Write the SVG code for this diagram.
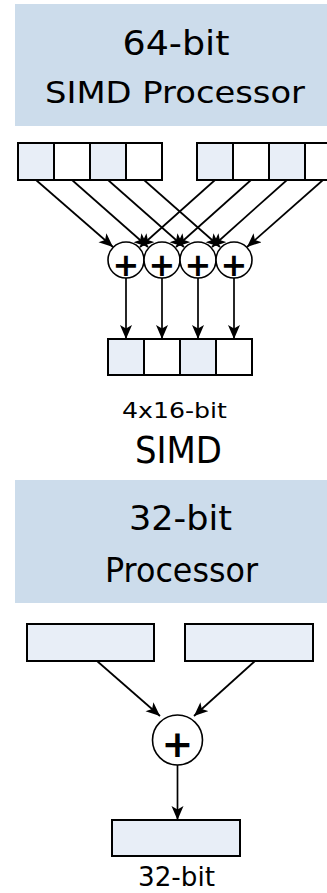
<svg xmlns="http://www.w3.org/2000/svg" width="327" height="893" viewBox="0 0 327 893">
<style>
.title{fill:#CCDCEB;stroke:none}
.cell{stroke:#000;stroke-width:2}
.lt{fill:#E8EEF7}
.wh{fill:#FFFFFF}
.adder{fill:#FFFFFF;stroke:#000;stroke-width:1.6}
.conn{stroke:#000;stroke-width:1.7;fill:none;marker-end:url(#arr)}
.t{font-family:"DejaVu Sans",sans-serif;fill:#000;text-anchor:middle}
.plus{font-family:"DejaVu Sans",sans-serif;font-weight:bold;fill:#000;text-anchor:middle}
</style>
<defs>
<marker id="arr" markerUnits="userSpaceOnUse" markerWidth="15" markerHeight="13" refX="14" refY="6" orient="auto">
<path d="M0,0 L14,6 L0,12 L3.5,6 Z" fill="#000"/>
</marker>
</defs>

<g id="title64">
<rect class="title" x="15" y="4" width="320" height="122"/>
<text class="t" x="176" y="55" font-size="33" textLength="107" lengthAdjust="spacingAndGlyphs">64-bit</text>
<text class="t" x="175" y="103" font-size="31" textLength="260" lengthAdjust="spacingAndGlyphs">SIMD Processor</text>
</g>

<g id="srcA">
<rect class="cell lt" x="18" y="143" width="36" height="37"/>
<rect class="cell wh" x="54" y="143" width="36" height="37"/>
<rect class="cell lt" x="90" y="143" width="36" height="37"/>
<rect class="cell wh" x="126" y="143" width="36" height="37"/>
</g>
<g id="srcB">
<rect class="cell lt" x="197" y="143" width="36" height="37"/>
<rect class="cell wh" x="233" y="143" width="36" height="37"/>
<rect class="cell lt" x="269" y="143" width="36" height="37"/>
<rect class="cell wh" x="305" y="143" width="36" height="37"/>
</g>

<g id="connectors">
<line class="conn" x1="36" y1="180" x2="113" y2="247"/>
<line class="conn" x1="72" y1="180" x2="148" y2="247"/>
<line class="conn" x1="108" y1="180" x2="184" y2="247"/>
<line class="conn" x1="144" y1="180" x2="220" y2="247"/>
<line class="conn" x1="215" y1="180" x2="140" y2="247"/>
<line class="conn" x1="251" y1="180" x2="176" y2="247"/>
<line class="conn" x1="287" y1="180" x2="212" y2="247"/>
<line class="conn" x1="323" y1="180" x2="247" y2="247"/>
<line class="conn" x1="126" y1="278" x2="126" y2="339"/>
<line class="conn" x1="162" y1="278" x2="162" y2="339"/>
<line class="conn" x1="198" y1="278" x2="198" y2="339"/>
<line class="conn" x1="234" y1="278" x2="234" y2="339"/>
<line class="conn" x1="97" y1="661" x2="160" y2="716"/>
<line class="conn" x1="255" y1="661" x2="194" y2="716"/>
<line class="conn" x1="177.5" y1="765" x2="177.5" y2="820"/>
</g>

<g id="add1"><circle class="adder" cx="126" cy="260" r="18"/><text class="plus" x="126" y="276" font-size="32">+</text></g>
<g id="add2"><circle class="adder" cx="162" cy="260" r="18"/><text class="plus" x="162" y="276" font-size="32">+</text></g>
<g id="add3"><circle class="adder" cx="198" cy="260" r="18"/><text class="plus" x="198" y="276" font-size="32">+</text></g>
<g id="add4"><circle class="adder" cx="234" cy="260" r="18"/><text class="plus" x="234" y="276" font-size="32">+</text></g>

<g id="result64">
<rect class="cell lt" x="108" y="339" width="36" height="36"/>
<rect class="cell wh" x="144" y="339" width="36" height="36"/>
<rect class="cell lt" x="180" y="339" width="36" height="36"/>
<rect class="cell wh" x="216" y="339" width="36" height="36"/>
</g>

<g id="label64">
<text class="t" x="174.5" y="418" font-size="22" textLength="105" lengthAdjust="spacingAndGlyphs">4x16-bit</text>
<text class="t" x="178.5" y="463" font-size="37" textLength="87" lengthAdjust="spacingAndGlyphs">SIMD</text>
</g>

<g id="title32">
<rect class="title" x="15" y="480" width="320" height="123"/>
<text class="t" x="180.5" y="530" font-size="34" textLength="103" lengthAdjust="spacingAndGlyphs">32-bit</text>
<text class="t" x="181.5" y="582" font-size="34" textLength="153" lengthAdjust="spacingAndGlyphs">Processor</text>
</g>

<g id="srcC"><rect class="cell lt" x="27" y="624" width="127" height="37"/></g>
<g id="srcD"><rect class="cell lt" x="185" y="624" width="128" height="37"/></g>

<g id="add32"><circle class="adder" cx="177.5" cy="740" r="25"/><text class="plus" x="177.5" y="757" font-size="38">+</text></g>

<g id="result32">
<rect class="cell lt" x="112" y="820" width="128" height="36"/>
<text class="t" x="176.5" y="886" font-size="26" textLength="77" lengthAdjust="spacingAndGlyphs">32-bit</text>
</g>
</svg>
